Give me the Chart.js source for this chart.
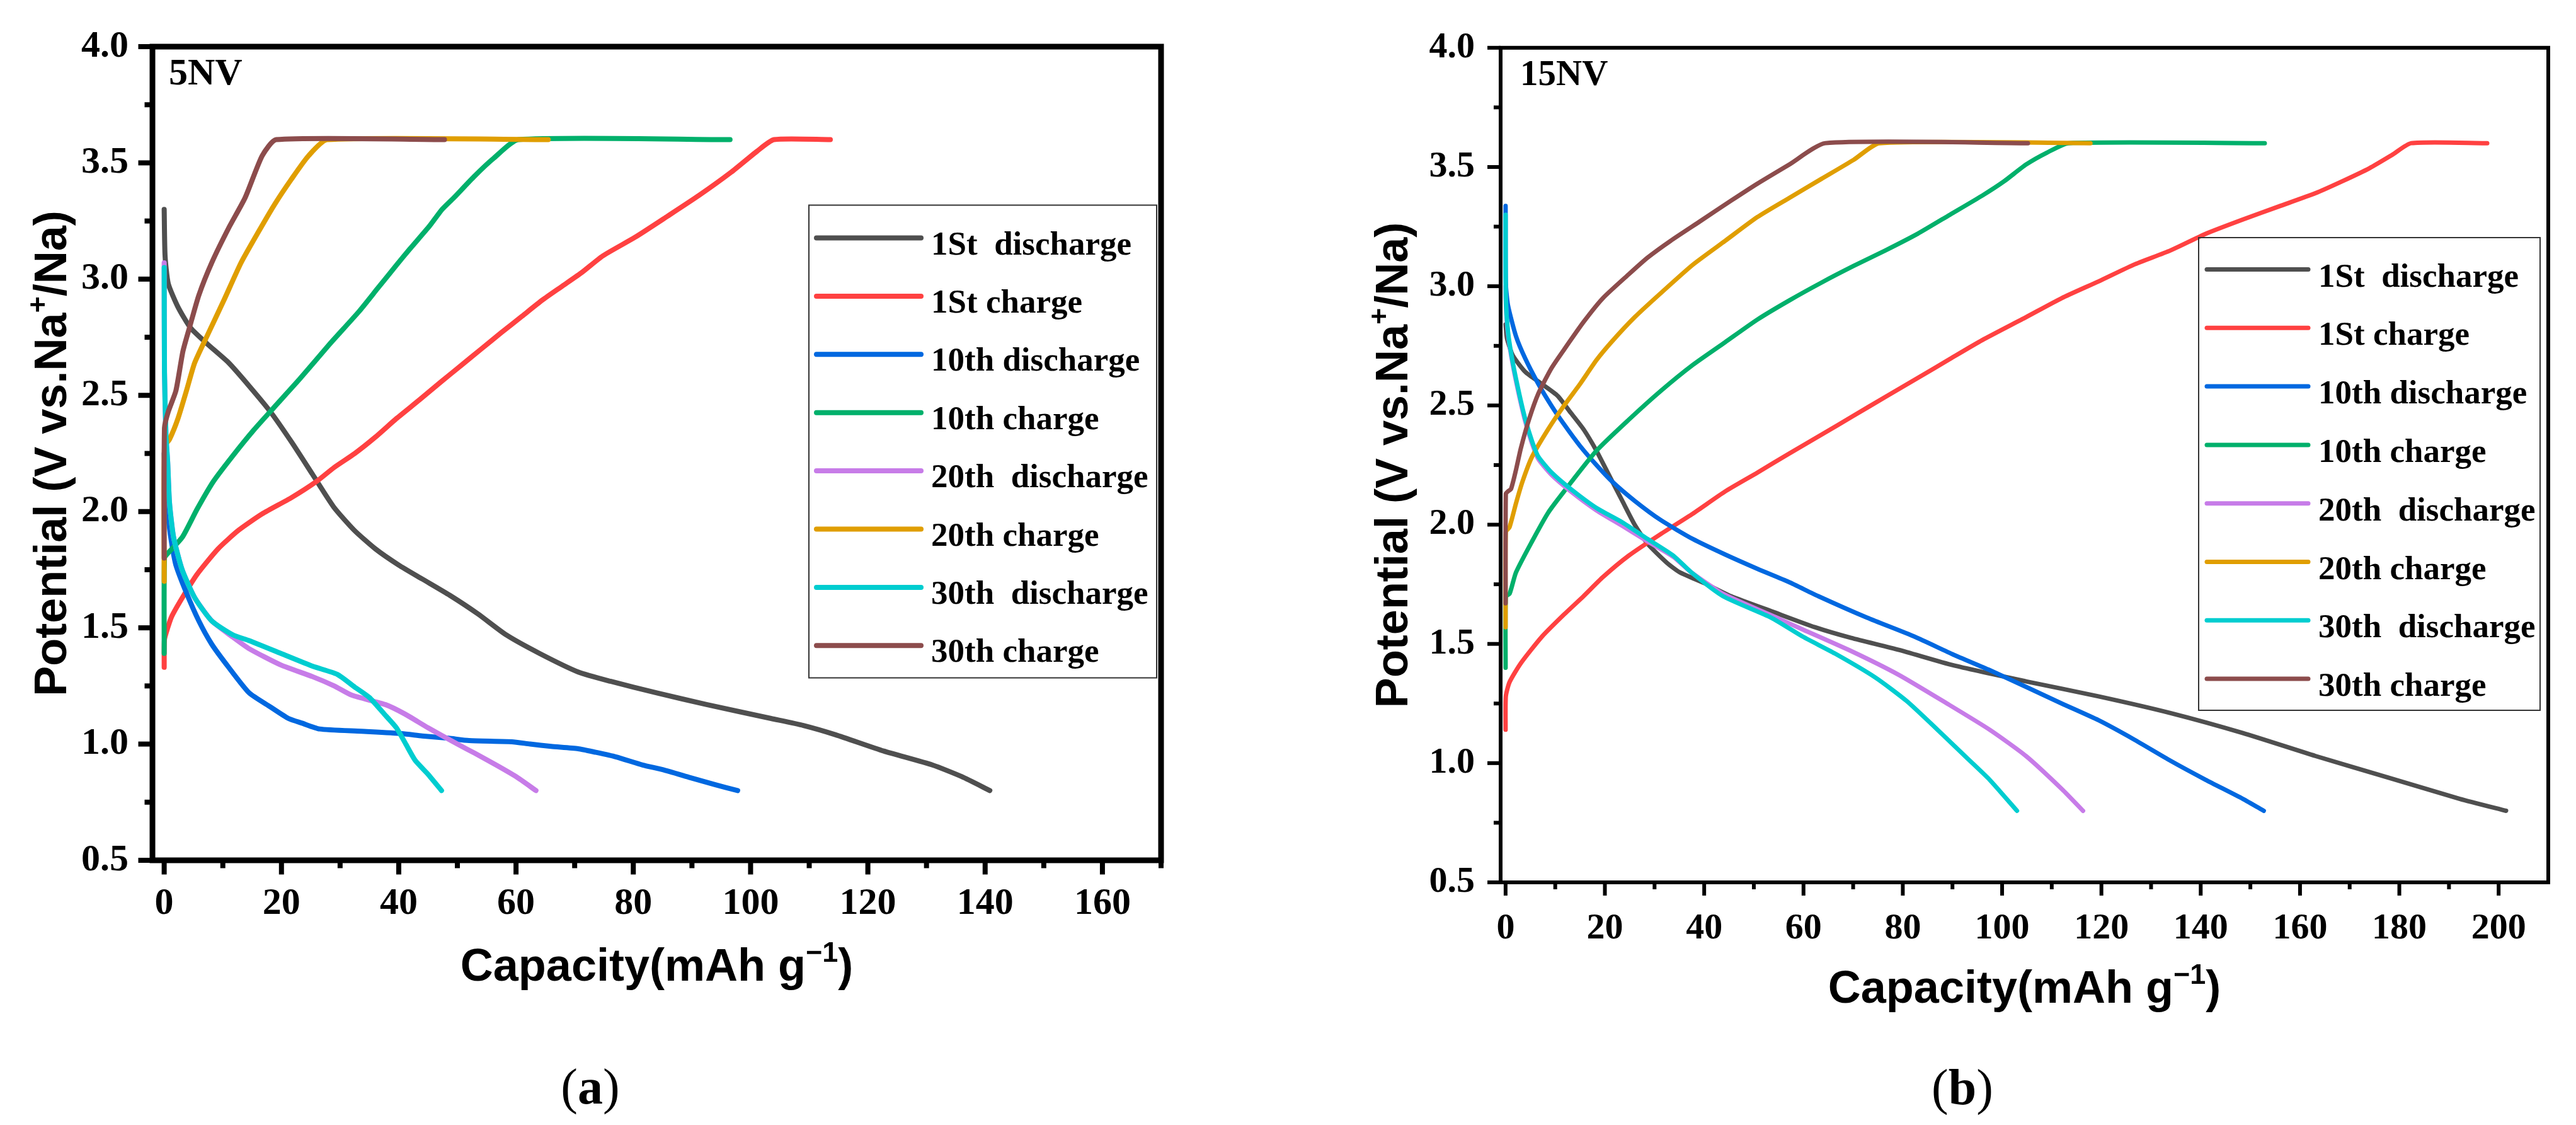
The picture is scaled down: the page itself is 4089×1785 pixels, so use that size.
<!DOCTYPE html>
<html><head><meta charset="utf-8">
<script src="https://cdn.jsdelivr.net/npm/chart.js@4.4.1/dist/chart.umd.min.js"></script>
<style>
html,body{margin:0;padding:0;background:#fff;width:4089px;height:1785px;overflow:hidden;}
#ca{position:absolute;left:0;top:0;}
#cb{position:absolute;left:2100px;top:0;}
.cap{position:absolute;font-family:'Liberation Serif','Times New Roman',serif;font-size:80px;color:#000;transform:translate(-50%,-50%);line-height:1;white-space:nowrap;}
</style></head><body>
<canvas id="ca" width="1950" height="1620"></canvas>
<canvas id="cb" width="1989" height="1660"></canvas>
<div class="cap" style="left:937px;top:1724px">(<b>a</b>)</div>
<div class="cap" style="left:3115px;top:1725px">(<b>b</b>)</div>
<script>
// ---------- labels / ticks ----------
const LABELS = ['1St  discharge','1St charge','10th discharge','10th charge','20th  discharge','20th charge','30th  discharge','30th charge'];
const COLORS = ['#4f4f4f','#ff4141','#0068e0','#00b06b','#c77ce8','#e09e00','#00cdd0','#8c4c4c'];
const X_TICKS_A = [0,20,40,60,80,100,120,140,160];
const X_MINOR_A = [10,30,50,70,90,110,130,150,170];
const X_TICKS_B = [0,20,40,60,80,100,120,140,160,180,200];
const X_MINOR_B = [10,30,50,70,90,110,130,150,170,190];
const Y_TICKS = [0.5,1.0,1.5,2.0,2.5,3.0,3.5,4.0];
const Y_MINOR = [0.75,1.25,1.75,2.25,2.75,3.25,3.75];
const PANEL_A = '5NV';
const PANEL_B = '15NV';

// ---------- panel (a) 5NV : [capacity, potential] ----------
const A_D1 = [[0,3.30],[0.15,3.10],[0.7,2.98],[2.35,2.88],[4.5,2.79],[7.4,2.72],[11,2.64],[14.5,2.54],[18.1,2.43],[21.7,2.30],[25.3,2.16],[28.9,2.02],[32.4,1.92],[36,1.84],[40,1.77],[44,1.71],[48.7,1.64],[53.5,1.56],[58.3,1.47],[64,1.39],[70.6,1.31],[76.1,1.27],[84,1.22],[92.5,1.17],[103.5,1.11],[109,1.08],[114.5,1.04],[122.7,0.97],[131,0.91],[136,0.86],[140.8,0.80]];
const A_C1 = [[0,1.33],[0.05,1.45],[0.6,1.50],[1.3,1.55],[3.1,1.63],[5.6,1.73],[9.2,1.84],[12.7,1.92],[16.7,1.99],[21.7,2.06],[26,2.13],[29,2.19],[32.5,2.25],[36,2.32],[39.6,2.40],[43.5,2.48],[47.3,2.56],[50.7,2.63],[54.1,2.70],[57.5,2.77],[61,2.84],[64.5,2.91],[67.9,2.97],[71.3,3.03],[74.8,3.10],[80.3,3.18],[85.8,3.27],[91.2,3.36],[96.7,3.46],[101.1,3.55],[104,3.60],[113.6,3.60]];
const A_D10 = [[0,2.25],[0.3,2.08],[0.8,1.95],[1.3,1.86],[2,1.77],[3.8,1.65],[5.9,1.53],[8.1,1.43],[11,1.33],[14.5,1.22],[18.1,1.16],[21.2,1.11],[23.5,1.09],[26.5,1.065],[33.6,1.055],[40.5,1.045],[44,1.035],[48.5,1.025],[52,1.015],[59.3,1.01],[62.4,1.0],[66,0.99],[70.6,0.98],[73.5,0.965],[77,0.945],[81.6,0.91],[85,0.89],[89.8,0.855],[94,0.825],[97.8,0.80]];
const A_C10 = [[0,1.39],[0.05,1.80],[0.6,1.82],[3.1,1.89],[5.6,2.01],[8.4,2.13],[11.7,2.24],[15.25,2.35],[18.8,2.45],[23.1,2.57],[28.2,2.72],[33.2,2.86],[36.4,2.96],[39.6,3.06],[41.9,3.13],[45.3,3.23],[47.4,3.30],[49.4,3.35],[52.8,3.44],[56.2,3.52],[60.4,3.60],[96.5,3.60]];
const A_D20 = [[0,3.07],[0.05,2.6],[0.3,2.33],[0.6,2.21],[0.9,2.04],[1.6,1.89],[3.06,1.75],[5.2,1.63],[8.1,1.53],[11.7,1.46],[14.5,1.41],[19.9,1.34],[25.3,1.29],[29,1.25],[32,1.21],[37.7,1.17],[41,1.13],[45,1.07],[50,1.0],[53,0.96],[56.6,0.91],[60,0.86],[63.4,0.80]];
const A_C20 = [[0,1.70],[0.05,2.28],[0.9,2.31],[2.35,2.40],[3.8,2.52],[5.2,2.64],[7.4,2.76],[10.2,2.91],[13.1,3.07],[16,3.20],[18.8,3.32],[21.7,3.43],[24.6,3.53],[27.8,3.60],[65.5,3.60]];
const A_D30 = [[0,3.05],[0.05,2.6],[0.3,2.33],[0.6,2.21],[0.9,2.04],[1.6,1.89],[3.06,1.75],[5.2,1.63],[8.1,1.53],[11.7,1.47],[14.5,1.445],[19.9,1.39],[25.3,1.335],[29.5,1.30],[32.5,1.245],[35,1.20],[37.5,1.13],[39.6,1.07],[41.2,1.00],[42.8,0.93],[45,0.87],[47.3,0.80]];
const A_C30 = [[0,1.80],[0.05,2.36],[0.7,2.43],[2,2.52],[3.2,2.69],[4.3,2.79],[5.9,2.93],[8.1,3.07],[11,3.22],[13.8,3.35],[16.7,3.53],[19.1,3.60],[47.8,3.60]];

// ---------- panel (b) 15NV ----------
const B_D1 = [[0,2.84],[0.3,2.78],[1.45,2.71],[4,2.64],[7.3,2.59],[10.5,2.54],[13.1,2.47],[15.7,2.40],[18.3,2.31],[20.9,2.205],[23.5,2.10],[26,2.00],[28.6,1.92],[32.5,1.84],[35.1,1.80],[40,1.755],[45.4,1.70],[53.8,1.635],[62.3,1.57],[69.6,1.525],[79.2,1.475],[90.2,1.41],[104.8,1.343],[119.4,1.28],[133.9,1.21],[148.5,1.126],[163.1,1.03],[177.7,0.94],[192.2,0.85],[201.5,0.80]];
const B_C1 = [[0,1.14],[0.05,1.28],[0.8,1.34],[3.1,1.42],[7.3,1.53],[11.6,1.62],[15.7,1.70],[19.6,1.78],[24.8,1.87],[31.2,1.96],[37.7,2.046],[44.2,2.139],[50.7,2.218],[57.1,2.298],[63.6,2.377],[70.1,2.457],[76.5,2.536],[83,2.615],[89.5,2.695],[96,2.774],[104.8,2.87],[112,2.95],[119.4,3.02],[126.5,3.09],[133.9,3.15],[141,3.22],[148.5,3.28],[155.8,3.335],[163.1,3.39],[168.5,3.44],[174,3.495],[178.5,3.55],[182.4,3.60],[197.7,3.60]];
const B_D10 = [[0,3.337],[0.05,3.01],[0.48,2.92],[2.1,2.79],[4,2.695],[6.6,2.59],[9.2,2.50],[11.8,2.42],[15,2.33],[18.3,2.25],[21.5,2.18],[26,2.10],[31.2,2.02],[37.7,1.94],[44.2,1.875],[50.7,1.815],[57,1.76],[63,1.70],[72.8,1.61],[82.4,1.53],[90.2,1.455],[97.5,1.39],[104.8,1.32],[112,1.25],[119.4,1.18],[126.5,1.10],[133.9,1.01],[141,0.93],[148.5,0.85],[152.7,0.80]];
const B_C10 = [[0,1.40],[0.05,1.70],[0.8,1.71],[2.1,1.80],[5.33,1.93],[8.57,2.05],[11.8,2.14],[18.3,2.31],[24.8,2.44],[31.2,2.56],[37.7,2.67],[44.2,2.765],[50.7,2.86],[57.1,2.94],[63.6,3.015],[70.1,3.085],[76.5,3.15],[83,3.22],[89.5,3.30],[96,3.38],[100.4,3.44],[104.8,3.51],[109,3.56],[113.4,3.60],[152.9,3.60]];
const B_D20 = [[0,3.0],[0.05,2.93],[0.48,2.80],[1.45,2.67],[2.74,2.54],[4,2.43],[5.33,2.34],[6.6,2.275],[9.2,2.21],[13.1,2.14],[18.3,2.06],[23.5,1.995],[28.6,1.93],[33.8,1.865],[37.4,1.80],[43.8,1.71],[53.5,1.62],[59.9,1.56],[69.6,1.47],[79.2,1.37],[88.9,1.25],[97.5,1.14],[104.8,1.03],[112.1,0.89],[116.3,0.80]];
const B_C20 = [[0,1.57],[0.05,1.97],[0.8,1.99],[2.1,2.09],[3.39,2.18],[5.33,2.285],[8.57,2.40],[11.8,2.50],[15,2.59],[18.3,2.69],[21.5,2.77],[26,2.87],[31.2,2.97],[37.7,3.09],[44.2,3.19],[50.7,3.29],[57.1,3.37],[63.6,3.45],[70.1,3.53],[75.3,3.60],[117.8,3.60]];
const B_D30 = [[0,3.30],[0.05,2.95],[0.48,2.81],[1.45,2.68],[2.74,2.55],[4,2.44],[5.33,2.35],[6.6,2.285],[9.2,2.22],[13.1,2.15],[18.3,2.07],[23.5,2.01],[28.6,1.94],[33.8,1.87],[37.4,1.80],[43.8,1.70],[53.5,1.61],[59.9,1.53],[66.3,1.46],[74.4,1.36],[80.8,1.26],[88.5,1.11],[93,1.02],[97.5,0.93],[103,0.80]];
const B_C30 = [[0,1.67],[0.05,2.13],[0.5,2.14],[1.1,2.15],[2.1,2.23],[3.07,2.32],[4.7,2.44],[6.6,2.55],[9.2,2.655],[11.8,2.735],[15.7,2.85],[19.6,2.95],[24.8,3.05],[28.6,3.12],[33.2,3.19],[39,3.27],[45.5,3.36],[50.7,3.43],[57.1,3.51],[64.4,3.60],[105.2,3.60]];

const SERIES_A = [A_D1,A_C1,A_D10,A_C10,A_D20,A_C20,A_D30,A_C30];
const SERIES_B = [B_D1,B_C1,B_D10,B_C10,B_D20,B_C20,B_D30,B_C30];

const SERIF = "'Liberation Serif','Times New Roman',serif";
const SANS = "'Liberation Sans',Arial,sans-serif";

function drawRich(ctx, segs, cx, cy, rot, size) {
  ctx.save();
  ctx.translate(cx, cy);
  ctx.rotate(rot);
  const main = 'bold ' + size + 'px ' + SANS;
  const sup = 'bold ' + Math.round(size * 0.62) + 'px ' + SANS;
  let w = 0;
  const ws = segs.map(s => { ctx.font = s.sup ? sup : main; const m = ctx.measureText(s.t).width; w += m; return m; });
  let x = -w / 2;
  ctx.textBaseline = 'alphabetic';
  ctx.textAlign = 'left';
  ctx.fillStyle = '#000';
  const base = size * 0.36;
  segs.forEach((s, i) => {
    ctx.font = s.sup ? sup : main;
    ctx.fillText(s.t, x, base - (s.sup ? size * 0.42 : 0));
    x += ws[i];
  });
  ctx.restore();
}

const decor = {
  id: 'decor',
  afterDatasetsDraw(chart, args, o) {
    const {ctx, chartArea: ca, scales: {x, y}} = chart;
    ctx.save();
    ctx.strokeStyle = '#000';
    ctx.lineWidth = o.frameW;
    ctx.lineCap = 'butt';
    ctx.strokeRect(ca.left, ca.top, ca.right - ca.left, ca.bottom - ca.top);
    ctx.lineWidth = o.tickW;
    const seg = (x1, y1, x2, y2) => { ctx.beginPath(); ctx.moveTo(x1, y1); ctx.lineTo(x2, y2); ctx.stroke(); };
    const h = o.frameW / 2;
    o.xMajor.forEach(v => { const p = x.getPixelForValue(v); seg(p, ca.bottom, p, ca.bottom + h + o.majLen); });
    o.xMinor.forEach(v => { const p = x.getPixelForValue(v); seg(p, ca.bottom, p, ca.bottom + h + o.minLen); });
    o.yMajor.forEach(v => { const p = y.getPixelForValue(v); seg(ca.left, p, ca.left - h - o.majLen, p); });
    o.yMinor.forEach(v => { const p = y.getPixelForValue(v); seg(ca.left, p, ca.left - h - o.minLen, p); });
    const L = o.legend;
    ctx.lineWidth = 2;
    ctx.strokeStyle = '#333';
    ctx.strokeRect(L.box[0], L.box[1], L.box[2] - L.box[0], L.box[3] - L.box[1]);
    chart.data.datasets.forEach((ds, i) => {
      const yy = L.y0 + i * L.step;
      ctx.strokeStyle = ds.borderColor;
      ctx.lineWidth = L.lw;
      ctx.lineCap = 'round';
      seg(L.lx, yy, L.lx + L.llen, yy);
      ctx.fillStyle = '#000';
      ctx.font = 'bold ' + L.size + 'px ' + SERIF;
      ctx.textBaseline = 'alphabetic';
      ctx.textAlign = 'left';
      ctx.fillText(ds.label, L.tx, yy + L.baseOff);
    });
    ctx.font = 'bold ' + o.tag.size + 'px ' + SERIF;
    ctx.fillStyle = '#000';
    ctx.fillText(o.tag.text, o.tag.x, o.tag.y);
    drawRich(ctx, [{t: 'Capacity(mAh g'}, {t: '\u22121', sup: true}, {t: ')'}], (ca.left + ca.right) / 2, o.xTitleY, 0, o.titleSize);
    drawRich(ctx, [{t: 'Potential (V vs.Na'}, {t: '+', sup: true}, {t: '/Na)'}], o.yTitleX, (ca.top + ca.bottom) / 2, -Math.PI / 2, o.titleSize);
    ctx.restore();
  }
};

function makeChart(id, series, c) {
  const datasets = series.map((arr, i) => ({
    label: LABELS[i],
    data: arr.map(([x, y]) => ({x, y})),
    borderColor: COLORS[i],
    backgroundColor: COLORS[i],
    borderWidth: c.lineW,
    pointRadius: 0,
    tension: 0.2,
    fill: false,
    order: series.length - i,
    borderCapStyle: 'round',
    borderJoinStyle: 'round'
  }));
  const tickFont = {family: SERIF, weight: 'bold', size: c.tickSize};
  return new Chart(document.getElementById(id), {
    type: 'line',
    data: {datasets},
    plugins: [decor],
    options: {
      responsive: false,
      animation: false,
      events: [],
      layout: {padding: c.padding},
      plugins: {
        legend: {display: false},
        tooltip: {enabled: false},
        decor: c.decor
      },
      scales: {
        x: {
          type: 'linear', min: c.xMin, max: c.xMax,
          afterBuildTicks: s => { s.ticks = c.xTicks.map(v => ({value: v})); },
          afterFit: s => { s.height = c.xAxisH; },
          grid: {display: false, drawTicks: false},
          border: {display: false},
          ticks: {font: tickFont, color: '#000', padding: c.xPad, maxRotation: 0, autoSkip: false, callback: v => String(v)}
        },
        y: {
          type: 'linear', min: 0.5, max: 4.0,
          afterBuildTicks: s => { s.ticks = Y_TICKS.map(v => ({value: v})); },
          afterFit: s => { s.width = c.yAxisW; },
          grid: {display: false, drawTicks: false},
          border: {display: false},
          ticks: {font: tickFont, color: '#000', padding: c.yPad, autoSkip: false, callback: v => Number(v).toFixed(1)}
        }
      }
    }
  });
}

makeChart('ca', SERIES_A, {
  lineW: 8, tickSize: 60,
  padding: {left: 0, top: 55, right: 107, bottom: 40},
  xMin: -2, xMax: 170, xTicks: X_TICKS_A, xAxisH: 215, xPad: 33, yAxisW: 242, yPad: 38,
  decor: {
    frameW: 9, tickW: 8, majLen: 18, minLen: 8,
    xMajor: X_TICKS_A, xMinor: X_MINOR_A, yMajor: Y_TICKS, yMinor: Y_MINOR,
    legend: {box: [1284, 325.5, 1836, 1075.5], y0: 377.5, step: 92.4, lx: 1296, llen: 166, lw: 8, tx: 1478, baseOff: 26, size: 53},
    tag: {text: PANEL_A, x: 268, y: 134, size: 60},
    xTitleY: 1530, yTitleX: 79, titleSize: 72
  }
});

makeChart('cb', SERIES_B, {
  lineW: 7, tickSize: 58,
  padding: {left: 0, top: 51, right: 44, bottom: 50},
  xMin: -1, xMax: 210, xTicks: X_TICKS_B, xAxisH: 210, xPad: 39, yAxisW: 282, yPad: 41,
  decor: {
    frameW: 6, tickW: 6, majLen: 18, minLen: 8,
    xMajor: X_TICKS_B, xMinor: X_MINOR_B, yMajor: Y_TICKS, yMinor: Y_MINOR,
    legend: {box: [1390, 377, 1932, 1127], y0: 427.5, step: 92.8, lx: 1403, llen: 161, lw: 7, tx: 1580, baseOff: 27, size: 53},
    tag: {text: PANEL_B, x: 313, y: 135, size: 57},
    xTitleY: 1565, yTitleX: 108, titleSize: 72
  }
});
</script>
</body></html>
